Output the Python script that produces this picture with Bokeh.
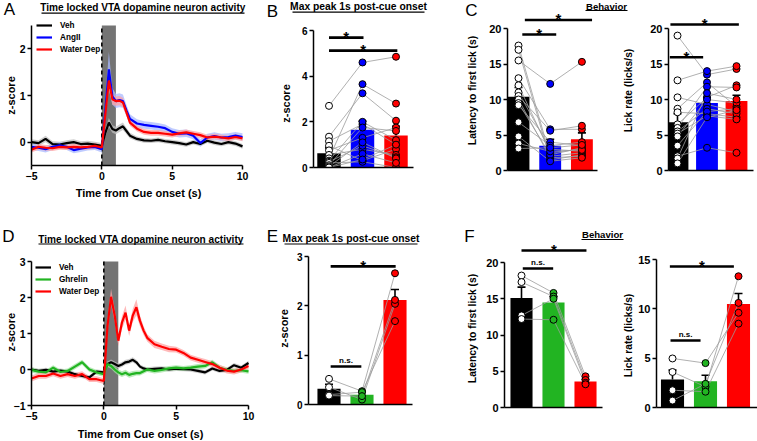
import math
from bokeh.plotting import figure
from bokeh.models import (Range1d, FixedTicker, Label, BoxAnnotation, Legend,
                          LegendItem, ColumnDataSource, Whisker, TeeHead)
from bokeh.core.properties import value
from bokeh.embed import file_html
from bokeh.resources import INLINE

# ======================= DATA =======================
CUE_WINDOW = [0, 1]  # grey box, seconds

# ---- Panel A: time-locked traces (z-score) ----
tA = [-5, -4.5, -4, -3.5, -3, -2.5, -2, -1.5, -1, -0.5, 0,
      0.25, 0.5, 0.75, 1, 1.25, 1.5, 1.75, 2,
      2.5, 3, 3.5, 4, 4.5, 5, 5.5, 6, 6.5, 7, 7.5, 8, 8.5, 9, 9.5, 10]
A_veh = [0.00, -0.02, 0.07, -0.04, -0.05, -0.02, 0.00, -0.04, -0.03, -0.05, -0.08,
         0.20, 0.42, 0.28, 0.25, 0.30, 0.34, 0.24, 0.14,
         0.07, 0.04, 0.03, 0.05, 0.02, 0.00, -0.02, -0.05, 0.00, -0.04, 0.03, -0.01, -0.04, 0.00, -0.03, -0.09]
A_veh_sem = [0.06, 0.06, 0.07, 0.06, 0.06, 0.06, 0.06, 0.06, 0.06, 0.06, 0.06,
             0.08, 0.10, 0.08, 0.08, 0.08, 0.08, 0.07, 0.06,
             0.05, 0.05, 0.05, 0.05, 0.05, 0.05, 0.05, 0.05, 0.05, 0.05, 0.05, 0.05, 0.05, 0.05, 0.05, 0.05]
A_ang = [-0.10, -0.12, -0.15, -0.10, -0.07, -0.10, -0.17, -0.14, -0.11, -0.10, -0.15,
         0.70, 1.56, 0.98, 0.88, 0.90, 0.88, 0.68, 0.50,
         0.40, 0.37, 0.35, 0.33, 0.30, 0.22, 0.18, 0.19, 0.14, -0.02, 0.10, 0.13, 0.10, 0.11, 0.14, 0.11]
A_ang_sem = [0.07, 0.07, 0.07, 0.07, 0.07, 0.07, 0.07, 0.07, 0.07, 0.07, 0.07,
             0.20, 0.38, 0.18, 0.15, 0.15, 0.14, 0.12, 0.10,
             0.09, 0.08, 0.08, 0.08, 0.08, 0.08, 0.08, 0.08, 0.08, 0.08, 0.08, 0.08, 0.08, 0.08, 0.08, 0.08]
A_wd = [-0.16, -0.10, -0.12, -0.13, -0.10, -0.11, -0.10, -0.11, -0.10, -0.08, -0.11,
        0.60, 1.32, 0.92, 0.88, 0.89, 0.85, 0.64, 0.42,
        0.29, 0.22, 0.20, 0.20, 0.18, 0.16, 0.19, 0.21, 0.18, 0.15, 0.10, 0.12, 0.10, 0.08, 0.11, 0.08]
A_wd_sem = [0.06, 0.06, 0.06, 0.06, 0.06, 0.06, 0.06, 0.06, 0.06, 0.06, 0.06,
            0.12, 0.20, 0.12, 0.10, 0.10, 0.10, 0.08, 0.07,
            0.06, 0.06, 0.06, 0.06, 0.06, 0.06, 0.06, 0.06, 0.06, 0.06, 0.06, 0.06, 0.06, 0.06, 0.06, 0.06]

# ---- Panel D: time-locked traces (z-score) ----
tD = [-5, -4.5, -4, -3.5, -3, -2.5, -2, -1.5, -1, -0.5, 0,
      0.25, 0.5, 0.75, 1, 1.25, 1.5, 1.75, 2, 2.25, 2.5, 2.75, 3,
      3.5, 4, 4.5, 5, 5.5, 6, 6.5, 7, 7.5, 8, 8.5, 9, 9.5, 10]
D_veh = [0.00, -0.04, -0.01, -0.06, -0.03, -0.06, -0.13, -0.18, -0.22, -0.06, -0.08,
         0.15, 0.20, 0.15, 0.10, 0.14, 0.20, 0.22, 0.27, 0.20, 0.08, 0.03, 0.00,
         0.02, 0.03, 0.00, 0.02, 0.01, 0.00, -0.04, -0.08, 0.03, -0.04, -0.01, 0.12, 0.05, 0.18]
D_veh_sem = [0.06, 0.06, 0.06, 0.06, 0.06, 0.06, 0.06, 0.06, 0.06, 0.06, 0.06,
             0.07, 0.08, 0.07, 0.07, 0.07, 0.07, 0.07, 0.07, 0.07, 0.06, 0.06, 0.06,
             0.06, 0.06, 0.06, 0.06, 0.06, 0.06, 0.06, 0.06, 0.06, 0.06, 0.06, 0.06, 0.06, 0.06]
D_ghr = [-0.01, -0.06, -0.08, 0.05, -0.07, -0.04, 0.08, 0.20, 0.00, -0.08, -0.13,
         0.15, 0.10, 0.00, -0.08, -0.13, -0.09, -0.15, -0.12, -0.10, -0.10, -0.05, 0.00,
         -0.04, -0.01, 0.03, 0.05, 0.03, 0.05, 0.08, 0.10, 0.20, 0.05, -0.01, -0.04, -0.02, -0.05]
D_ghr_sem = [0.07, 0.07, 0.07, 0.07, 0.07, 0.07, 0.07, 0.07, 0.07, 0.07, 0.07,
             0.08, 0.08, 0.08, 0.08, 0.08, 0.08, 0.08, 0.08, 0.07, 0.07, 0.07, 0.07,
             0.07, 0.07, 0.07, 0.07, 0.07, 0.07, 0.07, 0.07, 0.07, 0.07, 0.07, 0.07, 0.07, 0.07]
D_wd = [-0.25, -0.18, -0.18, -0.11, -0.18, -0.13, -0.18, -0.13, -0.27, -0.27, -0.32,
        1.20, 2.02, 1.50, 0.80, 1.30, 1.58, 1.08, 1.50, 1.73, 1.35, 1.08, 0.88,
        0.70, 0.63, 0.57, 0.55, 0.46, 0.33, 0.27, 0.21, 0.15, 0.05, -0.03, -0.06, 0.00, 0.10]
D_wd_sem = [0.08, 0.08, 0.08, 0.08, 0.08, 0.08, 0.08, 0.08, 0.08, 0.08, 0.08,
            0.18, 0.22, 0.18, 0.15, 0.18, 0.20, 0.15, 0.18, 0.22, 0.15, 0.12, 0.10,
            0.10, 0.09, 0.09, 0.08, 0.08, 0.08, 0.08, 0.08, 0.08, 0.08, 0.08, 0.08, 0.08, 0.08]

# ---- Panel B: max peak 1 s post-cue (z-score) ----
B_mean = [0.62, 1.65, 1.40]
B_sem = [0.24, 0.38, 0.40]
B_veh = [2.70, 1.35, 1.15, 0.95, 0.75, 0.55, 0.40, 0.30, 0.25, 0.20, 0.10, 0.05, 0.00, 0.00]
B_ang = [4.60, 3.25, 1.90, 0.30, 1.30, 0.80, 3.65, 2.00, 0.95, 0.25, 1.75, 1.10, 0.60, 0.35]
B_wd = [4.85, 2.05, 1.00, 0.80, 1.75, 0.55, 2.80, 1.20, 0.45, 0.00, 1.60, 0.40, 0.20, 1.00]
B_sig_from = [0, 0]
B_sig_to = [1.03, 2.04]
B_sig_y = [5.69, 5.12]
B_sig_txt = ["*", "*"]

# ---- Panel C: latency (s) and lick rate (licks/s) ----
C1_mean = [10.4, 3.5, 4.4]
C1_sem = [1.3, 0.9, 0.9]
C1_veh = [17.6, 17.0, 15.5, 13.0, 12.0, 11.0, 10.5, 10.0, 9.5, 9.2, 6.8, 4.8, 3.8, 3.1]
C1_ang = [2.0, 1.5, 12.2, 5.8, 2.5, 3.0, 5.6, 1.8, 2.2, 4.0, 3.5, 1.3, 2.7, 3.2]
C1_wd = [2.5, 2.2, 15.3, 5.8, 3.0, 2.7, 6.3, 2.0, 3.2, 3.5, 4.0, 1.8, 2.9, 3.6]
C1_sig_from = [0.12, 0.20]
C1_sig_to = [1.19, 2.32]
C1_sig_y = [19.15, 21.2]
C1_sig_txt = ["*", "*"]

C2_mean = [6.8, 9.5, 9.8]
C2_sem = [1.2, 0.8, 0.8]
C2_veh = [19.0, 12.7, 10.3, 8.7, 8.2, 6.5, 6.0, 5.5, 5.2, 4.8, 3.5, 2.0, 1.7, 1.0]
C2_ang = [13.5, 14.0, 9.3, 12.4, 8.0, 10.3, 11.8, 8.7, 7.7, 10.0, 8.3, 3.2, 10.9, 7.5]
C2_wd = [14.3, 14.7, 8.3, 9.0, 7.5, 12.0, 11.7, 8.0, 7.2, 9.5, 8.7, 2.5, 10.0, 8.5]
C2_sig_from = [-0.24, -0.26]
C2_sig_to = [2.08, 0.87]
C2_sig_y = [20.56, 15.96]
C2_sig_txt = ["*", "*"]

# ---- Panel E: max peak (z-score) ----
E_mean = [0.32, 0.20, 2.12]
E_sem = [0.09, 0.06, 0.21]
E_veh = [0.52, 0.35, 0.20, 0.18]
E_ghr = [0.27, 0.10, 0.25, 0.17]
E_wd = [2.66, 2.04, 1.69, 2.12]
E_sig_from = [0.05, 0.05]
E_sig_to = [2.02, 0.98]
E_sig_y = [2.80, 0.77]
E_sig_txt = ["*", "n.s."]

# ---- Panel F: latency (s) and lick rate (licks/s) ----
F1_mean = [15.1, 14.5, 3.6]
F1_sem = [1.5, 0.8, 0.3]
F1_veh = [18.2, 17.3, 12.7, 12.2]
F1_ghr = [15.8, 15.3, 15.0, 12.1]
F1_wd = [4.3, 3.8, 3.4, 3.2]
F1_sig_from = [0.00, 0.04]
F1_sig_to = [2.03, 0.99]
F1_sig_y = [21.66, 19.17]
F1_sig_txt = ["*", "n.s."]

F2_mean = [2.84, 2.67, 10.5]
F2_sem = [0.95, 0.60, 1.05]
F2_veh = [4.97, 3.60, 1.75, 0.70]
F2_ghr = [4.50, 2.10, 1.60, 2.40]
F2_wd = [9.6, 13.3, 8.5, 10.6]
F2_sig_from = [-0.08, -0.06]
F2_sig_to = [1.86, 0.85]
F2_sig_y = [14.29, 6.79]
F2_sig_txt = ["*", "n.s."]

# ======================= STYLE / LAYOUT =======================
W, H = 757, 441
FONT = "Liberation Sans"
BLUE = "#0000ff"
RED = "#ff0000"
GREEN = "#22b422"
BAND = {"black": "#bdbdbd", BLUE: "#a9b9ff", RED: "#ffa3a3", GREEN: "#a3e3a3"}
ROT = math.pi / 2


def lin(cal, p):
    v1, p1, v2, p2 = cal
    return v1 + (p - p1) * (v2 - v1) / (p2 - p1)


# ---- background canvas holding free texts (titles, letters, axis titles) ----
bg = figure(width=W, height=H, x_range=Range1d(0, W), y_range=Range1d(0, H),
            x_axis_location=None, y_axis_location=None,
            min_border_left=0, min_border_right=0, min_border_top=0, min_border_bottom=0,
            output_backend="svg", toolbar_location=None,
            styles={"position": "absolute", "left": "0px", "top": "0px"})
bg.outline_line_color = None
bg.xgrid.visible = False
bg.ygrid.visible = False
bg.background_fill_color = "white"
bg.border_fill_color = "white"


def txt(rx, ry, s, size, bold=True, angle=0.0):
    bg.add_layout(Label(x=rx, y=H - ry, x_units="screen", y_units="screen", text=s,
                        text_font=FONT, text_font_size=f"{size}px",
                        text_font_style="bold" if bold else "normal",
                        angle=angle, text_align="center", text_baseline="middle",
                        text_color="black"))


def underline(rx0, rx1, ry):
    bg.add_layout(BoxAnnotation(left=rx0, right=rx1, bottom=H - ry - 0.6, top=H - ry + 0.6,
                                left_units="screen", right_units="screen",
                                top_units="screen", bottom_units="screen",
                                fill_color="black", fill_alpha=1.0, line_color=None))


class Panel:
    def __init__(self, fl, fr, ft, fb, lb, bb, xcal, ycal, tick_size):
        self.fl, self.fb, self.xcal, self.ycal = fl, fb, xcal, ycal
        x0 = fl - lb
        p = figure(width=fr - x0, height=fb + bb - ft,
                   x_range=Range1d(lin(xcal, fl), lin(xcal, fr)),
                   y_range=Range1d(lin(ycal, fb), lin(ycal, ft)),
                   output_backend="svg", toolbar_location=None,
                   min_border_left=lb, min_border_bottom=bb, min_border_top=0, min_border_right=0,
                   styles={"position": "absolute", "left": f"{x0}px", "top": f"{ft}px"})
        p.outline_line_color = None
        p.background_fill_color = None
        p.border_fill_color = None
        p.xgrid.visible = False
        p.ygrid.visible = False
        for ax in (p.xaxis[0], p.yaxis[0]):
            ax.axis_line_width = 1.5
            ax.axis_line_color = "black"
            ax.major_tick_line_width = 1.5
            ax.major_tick_line_color = "black"
            ax.major_tick_out = 4
            ax.major_tick_in = 0
            ax.minor_tick_line_color = None
            ax.major_label_text_font = FONT
            ax.major_label_text_font_style = "bold"
            ax.major_label_text_font_size = f"{tick_size}px"
            ax.major_label_text_color = "black"
            ax.major_label_standoff = 2
        self.p = p


def trace_panel(P, t, series, ybounds, yticks, xticks, xbounds, leg_left, leg_bottom):
    p = P.p
    lo, hi = ybounds
    p.quad(left=[CUE_WINDOW[0]], right=[CUE_WINDOW[1]], bottom=[lo], top=[hi],
           fill_color="#747474", line_color=None)
    p.segment(x0=[CUE_WINDOW[0]], y0=[lo], x1=[CUE_WINDOW[0]], y1=[hi],
              line_color="black", line_width=1.6, line_dash="4 3")
    for name, vals, sems, col in series:
        p.varea(x=t, y1=[v - s for v, s in zip(vals, sems)], y2=[v + s for v, s in zip(vals, sems)],
                fill_color=BAND[col], fill_alpha=0.75)
    items = []
    for name, vals, sems, col in series:
        r = p.line(t, vals, line_color=col, line_width=2.2)
        items.append(LegendItem(label=name, renderers=[r]))
    leg = Legend(items=items, location=(leg_left - P.fl, P.fb - leg_bottom),
                 orientation="vertical", padding=0, margin=0, spacing=2,
                 glyph_width=16, glyph_height=10, label_height=10, label_standoff=8,
                 label_text_font=FONT, label_text_font_size="8.2px",
                 label_text_font_style="bold", label_text_color="black",
                 background_fill_alpha=0, border_line_alpha=0)
    p.add_layout(leg)
    p.yaxis.ticker = FixedTicker(ticks=yticks)
    p.yaxis.bounds = ybounds
    p.xaxis.ticker = FixedTicker(ticks=xticks)
    p.xaxis.bounds = xbounds


def bar_panel(P, means, sems, bar_cols, pt_fills, pts, width,
              sig_from, sig_to, sig_y, sig_txt, yticks, ybounds, xaxis_end_ref):
    p = P.p
    xs = list(range(len(means)))
    p.vbar(x=xs, top=means, bottom=0, width=width, fill_color=bar_cols, line_color=None)
    src = ColumnDataSource(dict(x=xs, lo=means, hi=[m + s for m, s in zip(means, sems)]))
    p.add_layout(Whisker(source=src, base="x", lower="lo", upper="hi", dimension="height",
                         line_color="black", line_width=1.6,
                         upper_head=TeeHead(size=8, line_width=1.6, line_color="black"),
                         lower_head=None))
    subjects = list(zip(*pts))
    p.multi_line(xs=[xs for _ in subjects], ys=[list(s) for s in subjects],
                 line_color="#9c9c9c", line_width=0.8)
    for g in xs:
        p.scatter(x=[g] * len(pts[g]), y=pts[g], size=7, marker="circle",
                  fill_color=pt_fills[g], line_color="black", line_width=1)
    p.segment(x0=sig_from, y0=sig_y, x1=sig_to, y1=sig_y, line_color="black", line_width=2.6)
    for a, b, y, s in zip(sig_from, sig_to, sig_y, sig_txt):
        star = s == "*"
        p.text(x=[(a + b) / 2], y=[y], text=[s], text_font=value(FONT),
               text_font_size="15px" if star else "8px", text_font_style="bold",
               text_align="center", text_baseline="alphabetic",
               y_offset=-1 if star else -6, text_color="black")
    p.yaxis.ticker = FixedTicker(ticks=yticks)
    p.yaxis.bounds = ybounds
    p.xaxis.ticker = FixedTicker(ticks=[])
    p.xaxis.major_label_text_font_size = "0px"
    p.xaxis.bounds = (p.x_range.start, lin(P.xcal, xaxis_end_ref))


TITLE_TRACE = "Time locked VTA dopamine neuron activity"
TITLE_PEAK = "Max peak 1s post-cue onset"
XLAB = "Time from Cue onset (s)"

# ---------------- Top row ----------------
pa = Panel(31, 252, 16, 165, 30, 22, (-5, 31, 10, 242), (-0.5, 165, 2.5, 25), 10.5)
trace_panel(pa, tA, [("Veh", A_veh, A_veh_sem, "black"), ("AngII", A_ang, A_ang_sem, BLUE),
                     ("Water Dep", A_wd, A_wd_sem, RED)],
            (-0.5, 2.5), [0, 1, 2], [-5, 0, 5, 10], (-5, 10), 36, 54)

pb = Panel(313, 425, 16, 167, 25, 6, (0, 328.5, 1, 362), (0, 167, 6, 30), 10)
bar_panel(pb, B_mean, B_sem, ["black", BLUE, RED], ["white", BLUE, RED],
          [B_veh, B_ang, B_wd], 0.7, B_sig_from, B_sig_to, B_sig_y, B_sig_txt,
          [0, 2, 4, 6], (0, 6), 413)

pc1 = Panel(507, 605, 10, 170, 27, 6, (0, 518, 1, 549.7), (0, 170, 20, 28), 11)
bar_panel(pc1, C1_mean, C1_sem, ["black", BLUE, RED], ["white", BLUE, RED],
          [C1_veh, C1_ang, C1_wd], 0.69, C1_sig_from, C1_sig_to, C1_sig_y, C1_sig_txt,
          [0, 5, 10, 15, 20], (0, 20), 597)

pc2 = Panel(668, 757, 12, 170, 27, 6, (0, 677, 1, 706.5), (0, 170, 20, 28), 11)
bar_panel(pc2, C2_mean, C2_sem, ["black", BLUE, RED], ["white", BLUE, RED],
          [C2_veh, C2_ang, C2_wd], 0.74, C2_sig_from, C2_sig_to, C2_sig_y, C2_sig_txt,
          [0, 5, 10, 15, 20], (0, 20), 753)

# ---------------- Bottom row ----------------
pd = Panel(31, 256, 254, 405, 30, 22, (-5, 31, 10, 248), (-1, 405, 3, 261), 10.5)
trace_panel(pd, tD, [("Veh", D_veh, D_veh_sem, "black"), ("Ghrelin", D_ghr, D_ghr_sem, GREEN),
                     ("Water Dep", D_wd, D_wd_sem, RED)],
            (-1, 3), [-1, 0, 1, 2, 3], [-5, 0, 5, 10], (-5, 10), 35, 296)

pe = Panel(308, 425, 248, 404, 25, 6, (0, 328.5, 1, 361.5), (0, 404, 3, 256), 10)
bar_panel(pe, E_mean, E_sem, ["black", GREEN, RED], ["white", GREEN, RED],
          [E_veh, E_ghr, E_wd], 0.7, E_sig_from, E_sig_to, E_sig_y, E_sig_txt,
          [0, 1, 2, 3], (0, 3), 412)

pf1 = Panel(504, 610, 240, 407, 27, 6, (0, 521, 1, 553), (0, 407, 20, 262), 11)
bar_panel(pf1, F1_mean, F1_sem, ["black", GREEN, RED], ["white", GREEN, RED],
          [F1_veh, F1_ghr, F1_wd], 0.69, F1_sig_from, F1_sig_to, F1_sig_y, F1_sig_txt,
          [0, 5, 10, 15, 20], (0, 20), 602)

pf2 = Panel(656, 757, 248, 407, 22, 6, (0, 672, 1, 705), (0, 407, 15, 259), 11)
bar_panel(pf2, F2_mean, F2_sem, ["black", GREEN, RED], ["white", GREEN, RED],
          [F2_veh, F2_ghr, F2_wd], 0.7, F2_sig_from, F2_sig_to, F2_sig_y, F2_sig_txt,
          [0, 5, 10, 15], (0, 15), 757)

# ---------------- free texts ----------------
for letter, lx, ly in [("A", 9, 8.5), ("B", 272, 11), ("C", 471, 10),
                       ("D", 8, 236), ("E", 272, 236), ("F", 469, 236)]:
    txt(lx, ly, letter, 17, bold=False)

txt(142.5, 6.5, TITLE_TRACE, 10.1)
underline(41, 244, 12.7)
txt(358, 6, TITLE_PEAK, 10.3)
underline(292, 424, 11.7)
txt(606, 5.5, "Behavior", 9.6)
underline(585, 627, 10)
txt(140.5, 238.5, TITLE_TRACE, 10.1)
underline(38, 243, 243.5)
txt(350.5, 238, TITLE_PEAK, 10.3)
underline(284, 417, 243.5)
txt(602, 234, "Behavior", 9.6)
underline(581, 623, 239)

for lx, ly in [(10, 95), (285, 103), (10, 331.7), (283.3, 328)]:
    txt(lx, ly, "z-score", 11, angle=ROT)
for lx, ly in [(471.7, 90), (471.7, 328)]:
    txt(lx, ly, "Latency to first lick (s)", 10.3, angle=ROT)
for lx, ly in [(628.3, 90), (628.3, 335)]:
    txt(lx, ly, "Lick rate (licks/s)", 10.3, angle=ROT)
txt(138, 192.7, XLAB, 11)
txt(140, 433, XLAB, 11)

roots = [bg, pa.p, pb.p, pc1.p, pc2.p, pd.p, pe.p, pf1.p, pf2.p]
with open("out.html", "w") as f:
    f.write(file_html(roots, INLINE))
